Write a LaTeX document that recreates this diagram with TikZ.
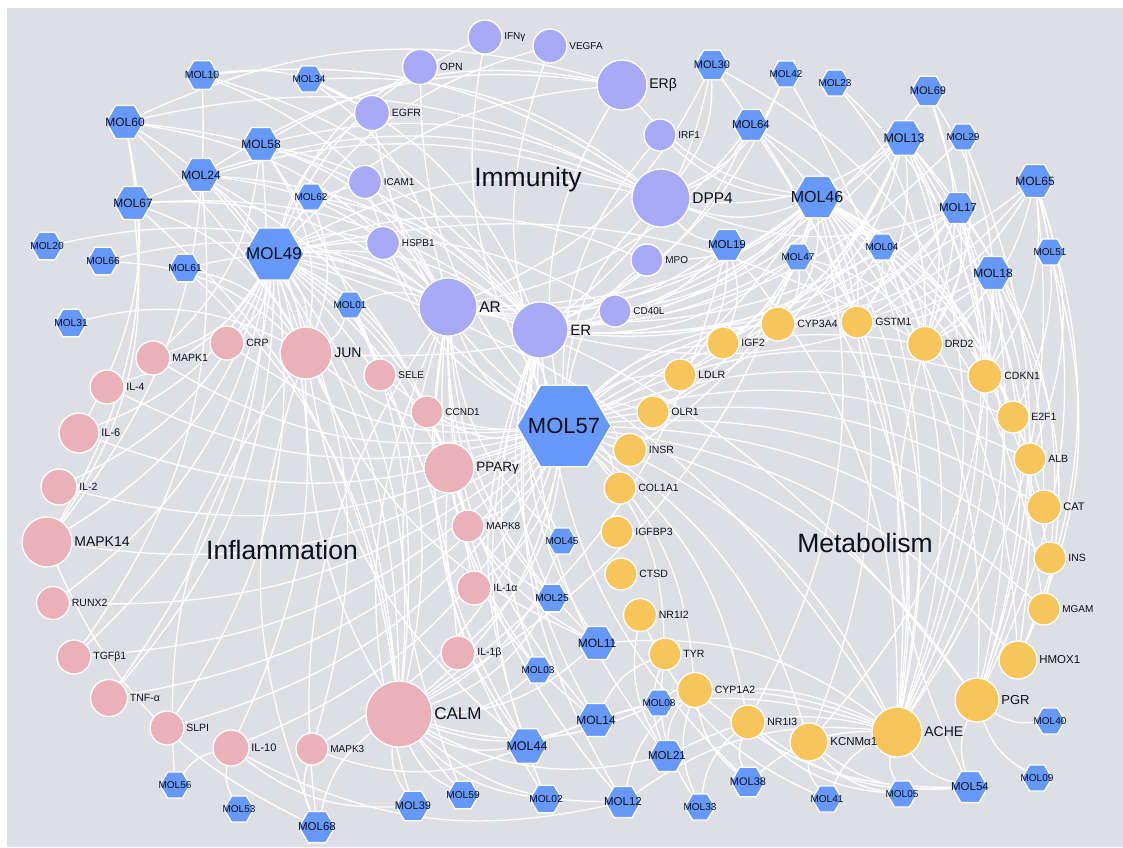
\documentclass[tikz,border=0pt]{standalone}
\usepackage{fontspec}
\setmainfont{Liberation Sans}
\usetikzlibrary{shapes.geometric}
\definecolor{bgc}{RGB}{222,223,228}
\definecolor{molb}{RGB}{102,153,250}
\definecolor{pur}{RGB}{168,170,248}
\definecolor{pnk}{RGB}{235,177,185}
\definecolor{org}{RGB}{248,197,91}
\definecolor{txt}{RGB}{15,15,28}
\pgfdeclarelayer{bgl}\pgfdeclarelayer{edl}\pgfsetlayers{bgl,edl,main}
\newcommand\fs[1]{\fontsize{#1}{#1}\selectfont}
\newcommand\gn[6]{\node[gc,fill=#2,minimum size=#4pt,label={[glab,font=\fs{#5}]right:#6}] (#1) at (#3) {};}
\newcommand\hx[5]{\node[hexa,minimum size=#3pt,label={[hlab,font=\fs{#4}]center:#5}] (#1) at (#2) {};}
\newcommand\lk[2]{\foreach \t in {#2}{\draw[lnk] (#1) to[bend left=20] (\t);}}
\begin{document}
\begin{tikzpicture}[x=1pt,y=-1pt,
 gc/.style={circle,draw=white,line width=1.3pt,inner sep=0pt},
 hexa/.style={regular polygon,regular polygon sides=6,fill=molb,draw=white,line width=1.3pt,inner sep=0pt},
 glab/.style={text=txt,inner sep=1.5pt},
 hlab/.style={text=txt,inner sep=0pt},
 lnk/.style={white,line width=1.3pt},
 cat/.style={text=txt,font=\fs{26.5}}]
\useasboundingbox (0,0) rectangle (1123,847);
\begin{pgfonlayer}{bgl}
\fill[white] (0,0) rectangle (1123,847);
\fill[bgc] (7,8) rectangle (1123,847);
\end{pgfonlayer}
% Immunity
\gn{IFNg}{pur}{485,37}{34}{10}{IFNγ}
\gn{VEGFA}{pur}{550,46}{34}{10}{VEGFA}
\gn{OPN}{pur}{420,67}{35}{10.5}{OPN}
\gn{EGFR}{pur}{372,113}{35}{10.5}{EGFR}
\gn{ICAM1}{pur}{365,182}{33}{10}{ICAM1}
\gn{HSPB1}{pur}{383,243}{33}{10}{HSPB1}
\gn{ERb}{pur}{622,85}{50}{14}{ERβ}
\gn{IRF1}{pur}{660,135}{32}{10}{IRF1}
\gn{DPP4}{pur}{661,198}{58}{15.5}{DPP4}
\gn{MPO}{pur}{647,260}{32}{10}{MPO}
\gn{AR}{pur}{448,307}{58}{15.5}{AR}
\gn{ER}{pur}{540,330}{56}{15}{ER}
\gn{CD40L}{pur}{615,311}{32}{10}{CD40L}
% Inflammation
\gn{CRP}{pnk}{227,343}{34}{10.5}{CRP}
\gn{MAPK1}{pnk}{153,358}{34}{10.5}{MAPK1}
\gn{IL4}{pnk}{107,387}{34}{10.5}{IL-4}
\gn{IL6}{pnk}{79,433}{40}{11}{IL-6}
\gn{IL2}{pnk}{59,487}{36}{10.5}{IL-2}
\gn{MAPK14}{pnk}{47,542}{50}{14}{MAPK14}
\gn{JUN}{pnk}{306,353}{52}{14}{JUN}
\gn{SELE}{pnk}{380,375}{32}{10}{SELE}
\gn{CCND1}{pnk}{427,412}{32}{10}{CCND1}
\gn{PPARg}{pnk}{449,468}{50}{13.5}{PPARγ}
\gn{MAPK8}{pnk}{468,526}{32}{10}{MAPK8}
\gn{RUNX2}{pnk}{53,603}{33}{10.5}{RUNX2}
\gn{TGFb1}{pnk}{74,657}{34}{10.5}{TGFβ1}
\gn{TNFa}{pnk}{109,698}{37}{10.5}{TNF-α}
\gn{SLPI}{pnk}{167,728}{34}{10.5}{SLPI}
\gn{IL10}{pnk}{231,748}{36}{11}{IL-10}
\gn{IL1a}{pnk}{474,588}{34}{10.5}{IL-1α}
\gn{IL1b}{pnk}{458,653}{34}{10.5}{IL-1β}
\gn{CALM}{pnk}{399,714}{66}{17}{CALM}
\gn{MAPK3}{pnk}{312,749}{32}{10}{MAPK3}
% Metabolism
\gn{CYP3A4}{org}{778,324}{34}{10.5}{CYP3A4}
\gn{IGF2}{org}{723,343}{32}{10.5}{IGF2}
\gn{LDLR}{org}{680,375}{32}{10.5}{LDLR}
\gn{OLR1}{org}{653,412}{32}{10.5}{OLR1}
\gn{INSR}{org}{630,450}{33}{10.5}{INSR}
\gn{COL1A1}{org}{620,488}{32}{10.5}{COL1A1}
\gn{IGFBP3}{org}{617,532}{32}{10.5}{IGFBP3}
\gn{CTSD}{org}{621,574}{32}{10.5}{CTSD}
\gn{NR1I2}{org}{640,615}{33}{10.5}{NR1I2}
\gn{TYR}{org}{665,654}{32}{10.5}{TYR}
\gn{CYP1A2}{org}{695,690}{35}{10.5}{CYP1A2}
\gn{NR1I3}{org}{748,722}{34}{10.5}{NR1I3}
\gn{ACHE}{org}{897,732}{50}{14}{ACHE}
\gn{KCNMa1}{org}{809,742}{38}{11.5}{KCNMα1}
\gn{GSTM1}{org}{857,322}{32}{10.5}{GSTM1}
\gn{DRD2}{org}{925,344}{35}{10.5}{DRD2}
\gn{CDKN1}{org}{985,376}{34}{10.5}{CDKN1}
\gn{E2F1}{org}{1013,417}{32}{10.5}{E2F1}
\gn{ALB}{org}{1030,459}{32}{10.5}{ALB}
\gn{CAT}{org}{1044,507}{34}{11}{CAT}
\gn{INS}{org}{1050,558}{32}{10.5}{INS}
\gn{MGAM}{org}{1044,609}{32}{10}{MGAM}
\gn{HMOX1}{org}{1018,660}{38}{11.5}{HMOX1}
\gn{PGR}{org}{977,700}{44}{13}{PGR}
% Molecules
\hx{M57}{564,426}{94}{22}{MOL57}
\hx{M49}{274,254}{60}{17}{MOL49}
\hx{M46}{817,197}{48}{16}{MOL46}
\hx{M60}{125,122}{38}{12}{MOL60}
\hx{M10}{202,75}{33}{10.5}{MOL10}
\hx{M58}{261,144}{38}{12}{MOL58}
\hx{M24}{201,175}{38}{12}{MOL24}
\hx{M67}{133,203}{38}{12}{MOL67}
\hx{M20}{47,246}{32}{10.2}{MOL20}
\hx{M66}{103,261}{32}{10.2}{MOL66}
\hx{M61}{185,268}{32}{10.2}{MOL61}
\hx{M34}{309,79}{30}{10}{MOL34}
\hx{M62}{311,197}{30}{10}{MOL62}
\hx{M30}{712,65}{34}{11}{MOL30}
\hx{M42}{786,74}{30}{10}{MOL42}
\hx{M23}{835,83}{30}{10}{MOL23}
\hx{M64}{751,125}{36}{11.5}{MOL64}
\hx{M19}{727,245}{36}{11.5}{MOL19}
\hx{M47}{798,257}{30}{10}{MOL47}
\hx{M69}{928,91}{34}{11}{MOL69}
\hx{M13}{904,138}{40}{12.5}{MOL13}
\hx{M29}{963,137}{30}{10}{MOL29}
\hx{M65}{1035,181}{38}{12}{MOL65}
\hx{M17}{958,208}{36}{11.5}{MOL17}
\hx{M04}{882,247}{30}{10}{MOL04}
\hx{M51}{1050,252}{30}{10}{MOL51}
\hx{M18}{993,273}{38}{12}{MOL18}
\hx{M31}{71,323}{32}{10.2}{MOL31}
\hx{M01}{350,305}{30}{10}{MOL01}
\hx{M45}{562,541}{30}{10}{MOL45}
\hx{M25}{552,598}{32}{10.2}{MOL25}
\hx{M03}{538,670}{30}{10}{MOL03}
\hx{M44}{527,746}{40}{12.5}{MOL44}
\hx{M59}{463,795}{32}{10.2}{MOL59}
\hx{M02}{546,799}{32}{10.2}{MOL02}
\hx{M39}{413,806}{34}{11}{MOL39}
\hx{M68}{317,827}{36}{11.5}{MOL68}
\hx{M56}{175,785}{30}{10}{MOL56}
\hx{M53}{239,809}{30}{10}{MOL53}
\hx{M11}{597,643}{38}{12}{MOL11}
\hx{M08}{659,703}{30}{10}{MOL08}
\hx{M14}{596,720}{38}{12}{MOL14}
\hx{M21}{667,756}{36}{11.5}{MOL21}
\hx{M12}{623,802}{36}{11.5}{MOL12}
\hx{M33}{700,807}{30}{10}{MOL33}
\hx{M38}{748,782}{34}{11}{MOL38}
\hx{M41}{827,799}{30}{10}{MOL41}
\hx{M05}{902,794}{30}{10}{MOL05}
\hx{M54}{970,787}{36}{11.5}{MOL54}
\hx{M40}{1050,721}{30}{10}{MOL40}
\hx{M09}{1037,778}{30}{10}{MOL09}
% category labels
\node[cat] (immu) at (528,180) {Immunity};
\node[cat] (infl) at (282,550) {Inflammation};
\node[cat] (meta) at (865,543) {Metabolism};
% edges
\begin{pgfonlayer}{edl}
\lk{M57}{AR,ER,ERb,DPP4,JUN,PPARg,CALM,ACHE,PGR,HMOX1,DRD2,CYP3A4,GSTM1,CDKN1,MAPK14,IL6,EGFR,ICAM1,HSPB1,MPO,IRF1,IL1b,MAPK8,CCND1,SELE,INSR,OLR1,LDLR,IGF2,KCNMa1,NR1I3,CYP1A2,TYR,ALB,CAT,INS,MGAM,E2F1,VEGFA,OPN,IFNg,CRP,MAPK1,TNFa,IL10,IL1a,COL1A1,RUNX2,TGFb1,SLPI,IL2,IL4,MAPK3}
\lk{M49}{AR,ER,JUN,CRP,MAPK1,CALM,PPARg,DPP4,ERb,HSPB1,ICAM1,EGFR,SELE,CCND1,IL4,IL6,IL2,MAPK14,ACHE,PGR,DRD2,IL1b,IL1a,MAPK8,CD40L,MPO,TNFa,TGFb1,RUNX2,SLPI,IL10,MAPK3,VEGFA,OPN,IFNg}
\lk{M46}{DPP4,ER,AR,DRD2,GSTM1,CYP3A4,IGF2,LDLR,ACHE,PGR,HMOX1,CDKN1,E2F1,ALB,CAT,MPO,IRF1,ERb,CALM,JUN,PPARg,KCNMa1,NR1I3,INS,MGAM,OLR1,INSR,CD40L}
\lk{M13}{DRD2,GSTM1,CYP3A4,IGF2,ER,AR,DPP4,ACHE,PGR,CDKN1,LDLR,OLR1,HMOX1,CAT}
\lk{M65}{DRD2,GSTM1,CYP3A4,ACHE,PGR,CDKN1,E2F1,ER,HMOX1,ALB}
\lk{M17}{DRD2,GSTM1,ER,AR,ACHE,CYP3A4,IGF2,PGR,DPP4,INS}
\lk{M18}{DRD2,ACHE,PGR,GSTM1,ER,CDKN1,KCNMa1,MGAM}
\lk{M04}{DRD2,ER,GSTM1,ACHE,CYP3A4}
\lk{M47}{ER,AR,DRD2,ACHE,CYP3A4,GSTM1}
\lk{M19}{ER,AR,DPP4,ACHE,IGF2,LDLR,CALM}
\lk{M64}{DPP4,ER,ACHE,GSTM1,DRD2,AR}
\lk{M30}{DPP4,ER,AR,ACHE,CDKN1}
\lk{M42}{DPP4,ER,ACHE}
\lk{M23}{DRD2,CDKN1}
\lk{M69}{ER,DRD2,CDKN1,ACHE}
\lk{M29}{DRD2,PGR,ER}
\lk{M51}{HMOX1}
\lk{M40}{PGR}
\lk{M09}{PGR}
\lk{M54}{ACHE,PGR,KCNMa1,CYP1A2,NR1I3,DRD2}
\lk{M05}{ACHE,KCNMa1,NR1I3}
\lk{M41}{ACHE,KCNMa1,NR1I2}
\lk{M38}{NR1I3,CYP1A2,ACHE,ER}
\lk{M33}{NR1I3,CYP1A2,TYR}
\lk{M12}{CALM,CYP1A2,ACHE,ER,AR,IL10}
\lk{M21}{CYP1A2,TYR,NR1I2,CALM,ER,ACHE}
\lk{M14}{CALM,ER,AR,PPARg,ACHE,TYR}
\lk{M08}{CYP1A2,ACHE,CALM}
\lk{M11}{CALM,AR,ER,PPARg,ACHE,JUN}
\lk{M44}{CALM,AR,ER,PPARg,JUN,ACHE,MAPK3}
\lk{M02}{CALM,AR,ER}
\lk{M03}{CALM,ER,AR}
\lk{M25}{CALM,AR,ER,PPARg}
\lk{M45}{AR,ER,CALM}
\lk{M59}{CALM,AR,JUN}
\lk{M39}{CALM,AR,IL10}
\lk{M68}{MAPK3,CALM,JUN,AR,MAPK14}
\lk{M53}{IL10}
\lk{M56}{IL10,JUN}
\lk{M01}{AR,JUN,CALM}
\lk{M62}{AR,JUN,ER}
\lk{M61}{AR,JUN,CALM}
\lk{M66}{AR,JUN}
\lk{M20}{AR}
\lk{M31}{JUN}
\lk{M67}{AR,ER,JUN,CALM,DPP4,MAPK14}
\lk{M24}{AR,ER,JUN,DPP4,CALM,PPARg,ERb,TGFb1}
\lk{M58}{AR,ER,DPP4,JUN,ERb,CALM,TNFa,MAPK1}
\lk{M60}{AR,ER,DPP4,ERb,JUN,CALM,IL6,MAPK14}
\lk{M10}{AR,ER,DPP4,MAPK14,EGFR}
\lk{M34}{ER,DPP4,AR}
\end{pgfonlayer}
\end{tikzpicture}
\end{document}
